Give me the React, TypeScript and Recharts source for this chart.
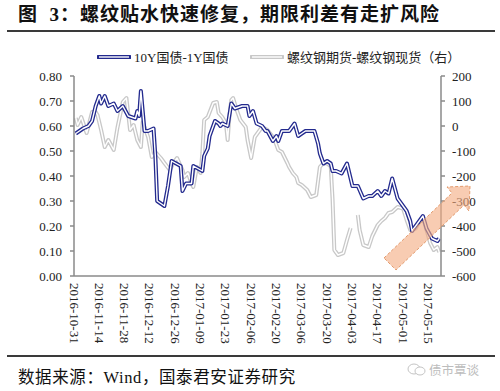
import { LineChart, Line, XAxis, YAxis } from 'recharts'

const serif = "'Liberation Serif', 'Times New Roman', 'Noto Sans CJK SC', serif"

const tickLabels = [
    '2016-10-31', '2016-11-14', '2016-11-28', '2016-12-12', '2016-12-26',
    '2017-01-09', '2017-01-23', '2017-02-06', '2017-02-20', '2017-03-06',
    '2017-03-20', '2017-04-03', '2017-04-17', '2017-05-01', '2017-05-15',
]
const tickDays = tickLabels.map((_, i) => i * 14)

// days counted from 2016-10-31
const spreadDays = [
    1, 3, 5, 8, 10, 12, 14, 15, 17, 19, 22, 24, 27, 30, 34, 35, 36, 37, 38, 39,
    41, 44, 45, 46, 48, 50, 52, 54, 59, 60, 62, 65, 66, 71, 72, 74, 75, 78, 80, 81,
    82, 85, 87, 89, 93, 96, 97, 99, 101, 104, 106, 107, 110, 112, 113, 115, 118, 119, 122, 124,
    128, 131, 133, 135, 136, 138, 140, 142, 143, 145, 148, 151, 154, 157, 160, 163, 165, 168, 170, 172,
    174, 176, 179, 181, 184, 186, 187, 190, 193, 195, 198, 201, 202,
]
// 10Y国债-1Y国债 (left)
const spreadValues = [
    0.57, 0.58, 0.59, 0.60, 0.62, 0.68, 0.72, 0.69, 0.72, 0.68, 0.69, 0.66, 0.68, 0.64, 0.63, 0.66, 0.64, 0.74, 0.66, 0.58,
    0.58, 0.59, 0.48, 0.30, 0.29, 0.28, 0.36, 0.46, 0.44, 0.34, 0.37, 0.37, 0.44, 0.42, 0.48, 0.51, 0.56, 0.62, 0.61, 0.60,
    0.61, 0.60, 0.69, 0.67, 0.68, 0.68, 0.64, 0.66, 0.61, 0.60, 0.58, 0.58, 0.54, 0.56, 0.54, 0.58, 0.58, 0.58, 0.61, 0.56,
    0.58, 0.58, 0.58, 0.53, 0.49, 0.45, 0.46, 0.45, 0.42, 0.42, 0.41, 0.45, 0.36, 0.36, 0.31, 0.32, 0.32, 0.34, 0.32, 0.34,
    0.33, 0.39, 0.31, 0.29, 0.26, 0.22, 0.18, 0.21, 0.24, 0.19, 0.15, 0.14, 0.15,
]

const basisDays = [
    1, 2, 4, 7, 10, 12, 13, 15, 17, 19, 22, 24, 27, 29, 31, 33, 35, 37, 38, 41,
    43, 45, 48, 50, 53, 55, 57, 60, 61, 63, 65, 66, 68, 70, 71, 72, 74, 77, 79, 80,
    82, 84, 85, 86, 87, 88, 90, 92, 95, 96, 98, 100, 102, 104, 107, 110, 111, 113, 115, 118,
    119, 121, 123, 124, 126, 129, 131, 134, 136, 138, 140, 142, 143, 144, 146, 149, 151, 153, 155, 157,
    158, 160, 163, 165, 168, 170, 172, 174, 176, 179, 182, 184, 186, 189, 191, 193, 195, 197, 199, 201,
    202,
]
// 螺纹钢期货-螺纹钢现货 (right)
const basisValues = [
    32, 4, 36, -28, 56, 56, 44, -16, -84, -56, -96, -8, 96, 112, -16, 4, -56, -84, 16, -44,
    -124, -104, -128, -148, -176, -148, -128, -176, -204, -188, -230, -244, -164, -188, -108, 24, 36, 92, 96, 52,
    36, 12, -56, 44, 104, 112, 64, 24, -4, -56, -128, -44, -24, -4, -16, -44, -56, -96, -104, -148,
    -164, -188, -204, -228, -236, -256, -284, -276, -164, -148, -150, -160, -290, -496, -516, -508, -456, -408, null, -356,
    -416, -476, -484, -440, -396, -380, -368, -348, -344, -324, -330, -376, -416, -410, -384, -368, -416, -468, -496, -484,
    -504,
]

const leftTicks = [0, 0.1, 0.2, 0.3, 0.4, 0.5, 0.6, 0.7, 0.8]
const rightTicks = [-600, -500, -400, -300, -200, -100, 0, 100, 200]

const spreadData = spreadDays.map((d, i) => ({ d, v: spreadValues[i] }))
const basisData = basisDays.map((d, i) => ({ d, v: basisValues[i] }))

const navy = '#232a8e'
const grey = '#c8c8c8'
const axisGrey = '#8a8a8a'

function DateTick(props: any) {
    const { x, y, payload } = props
    const label = tickLabels[tickDays.indexOf(payload.value)]
    return (
        <text x={x} y={y} transform={`rotate(90, ${x}, ${y})`} textAnchor="start"
            dominantBaseline="central" fontSize={13} fontFamily={serif} fill="#222">
            {label}
        </text>
    )
}

function LegendLine({ color }: { color: string }) {
    return (
        <svg width={34} height={8} style={{ display: 'block' }}>
            <line x1={1} y1={4} x2={33} y2={4} stroke={color} strokeWidth={4} strokeLinecap="round" />
            <line x1={2} y1={4} x2={32} y2={4} stroke="#fff" strokeWidth={1.4} />
        </svg>
    )
}

export default function App() {
    return (
        <div style={{ position: 'relative', width: 500, height: 391, background: '#fff', overflow: 'hidden' }}>
            <style>{'body{margin:0}'}</style>

            <div style={{
                position: 'absolute', left: 18, top: 5, fontSize: 19, lineHeight: '20px', fontWeight: 700,
                fontFamily: serif, color: '#111', whiteSpace: 'pre', letterSpacing: 1,
            }}>
                {'图  3：螺纹贴水快速修复，期限利差有走扩风险'}
            </div>
            <div style={{ position: 'absolute', left: 7, top: 30, width: 488, height: 2, background: '#3a3a3a' }} />

            <LineChart width={500} height={391} margin={{ top: 76, right: 0, bottom: 45, left: 14 }}>
                <XAxis type="number" dataKey="d" domain={[0, 203]} ticks={tickDays} interval={0}
                    tick={<DateTick />} tickLine={false} tickSize={0} tickMargin={7} height={70}
                    axisLine={{ stroke: axisGrey, strokeWidth: 1.5 }} />
                <YAxis yAxisId="L" domain={[0, 0.8]} ticks={leftTicks} width={60}
                    tickFormatter={(v: number) => v.toFixed(2)} tickSize={4} tickMargin={8}
                    tick={{ fill: '#222', fontSize: 13, fontFamily: serif }}
                    tickLine={{ stroke: axisGrey, strokeWidth: 1.5 }}
                    axisLine={{ stroke: axisGrey, strokeWidth: 1.5 }} />
                <YAxis yAxisId="R" orientation="right" domain={[-600, 200]} ticks={rightTicks} width={59}
                    tickSize={4} tickMargin={7}
                    tick={{ fill: '#222', fontSize: 13, fontFamily: serif }}
                    tickLine={{ stroke: axisGrey, strokeWidth: 1.5 }}
                    axisLine={{ stroke: axisGrey, strokeWidth: 1.5 }} />

                <Line yAxisId="R" data={basisData} dataKey="v" stroke={grey} strokeWidth={4}
                    dot={false} activeDot={false} isAnimationActive={false} strokeLinejoin="round" />
                <Line yAxisId="R" data={basisData} dataKey="v" stroke="#fff" strokeWidth={1.4}
                    dot={false} activeDot={false} isAnimationActive={false} strokeLinejoin="round" />
                <Line yAxisId="L" data={spreadData} dataKey="v" stroke={navy} strokeWidth={4}
                    dot={false} activeDot={false} isAnimationActive={false} strokeLinejoin="round" />
                <Line yAxisId="L" data={spreadData} dataKey="v" stroke="#fff" strokeWidth={1.4}
                    dot={false} activeDot={false} isAnimationActive={false} strokeLinejoin="round" />
            </LineChart>

            {/* arrow annotation */}
            <svg width={500} height={391} style={{ position: 'absolute', left: 0, top: 0, pointerEvents: 'none' }}>
                <polygon points="384,258 452,193 447,187 470,186 469,211 464,205 396,270"
                    fill="#f4ad82" fillOpacity={0.62} stroke="#e39a6c" strokeWidth={1} strokeDasharray="3 2" />
            </svg>

            <div style={{ position: 'absolute', left: 97, top: 47, display: 'flex', alignItems: 'center', gap: 3, fontSize: 13, fontFamily: serif, color: '#222', whiteSpace: 'nowrap' }}>
                <LegendLine color={navy} />
                <span>10Y国债-1Y国债</span>
            </div>
            <div style={{ position: 'absolute', left: 250, top: 47, display: 'flex', alignItems: 'center', gap: 3, fontSize: 13, fontFamily: serif, color: '#222', whiteSpace: 'nowrap' }}>
                <LegendLine color={grey} />
                <span>螺纹钢期货-螺纹钢现货（右）</span>
            </div>

            <div style={{ position: 'absolute', left: 7, top: 355, width: 488, height: 2, background: '#3a3a3a' }} />
            <div style={{ position: 'absolute', left: 18, top: 368, fontSize: 16.5, lineHeight: '20px', fontFamily: serif, color: '#111', whiteSpace: 'nowrap', letterSpacing: 0.6 }}>
                数据来源：Wind，国泰君安证券研究
            </div>
            <svg width={20} height={14} style={{ position: 'absolute', left: 407, top: 363 }}>
                <ellipse cx={7} cy={6} rx={6} ry={5} fill="none" stroke="#c4c4c4" strokeWidth={1} />
                <ellipse cx={13} cy={8} rx={5} ry={4} fill="#fff" stroke="#c4c4c4" strokeWidth={1} />
            </svg>
            <div style={{ position: 'absolute', left: 429, top: 362, fontSize: 12.5, lineHeight: '16px', fontFamily: "'Noto Sans CJK SC', sans-serif", color: '#bdbdbd', whiteSpace: 'nowrap' }}>
                债市覃谈
            </div>
        </div>
    )
}
